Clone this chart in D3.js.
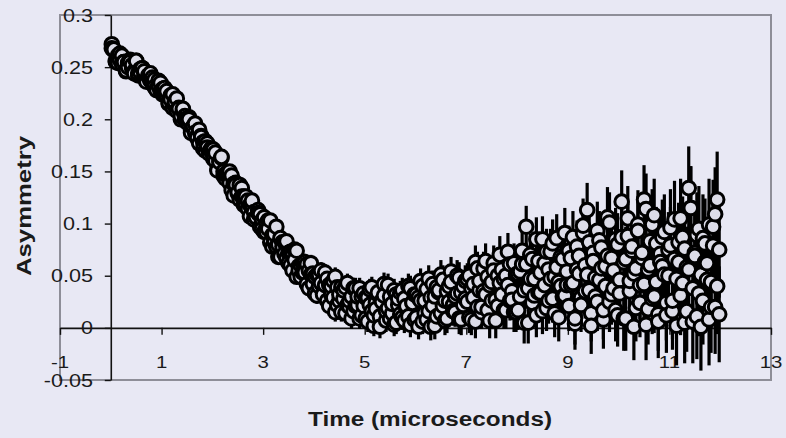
<!DOCTYPE html>
<html>
<head>
<meta charset="utf-8">
<script src="https://cdn.jsdelivr.net/npm/d3@7"></script>
<style>
  html, body { margin: 0; padding: 0; background: #e8e8f4; }
  svg { display: block; }
  text { font-family: "Liberation Sans", Arial, Helvetica, sans-serif; fill: #1a1a1a; }
</style>
</head>
<body>
<svg id="chart" width="786" height="438"></svg>
<script>
// Muon spin asymmetry vs time; one row per microsecond of bins
const times = [
  0.02,0.06,0.10,0.14,0.18, 0.22,0.26,0.30,0.34,0.38, 0.42,0.46,0.50,0.54,0.58, 0.62,0.66,0.70,0.74,0.78, 0.82,0.86,0.90,0.94,0.98,
  1.02,1.06,1.10,1.14,1.18, 1.22,1.26,1.30,1.34,1.38, 1.42,1.46,1.50,1.54,1.58, 1.62,1.66,1.70,1.74,1.78, 1.82,1.86,1.90,1.94,1.98,
  2.02,2.06,2.10,2.14,2.18, 2.22,2.26,2.30,2.34,2.38, 2.42,2.46,2.50,2.54,2.58, 2.62,2.66,2.70,2.74,2.78, 2.82,2.86,2.90,2.94,2.98,
  3.02,3.06,3.10,3.14,3.18, 3.22,3.26,3.30,3.34,3.38, 3.42,3.46,3.50,3.54,3.58, 3.62,3.66,3.70,3.74,3.78, 3.82,3.86,3.90,3.94,3.98,
  4.02,4.06,4.10,4.14,4.18, 4.22,4.26,4.30,4.34,4.38, 4.42,4.46,4.50,4.54,4.58, 4.62,4.66,4.70,4.74,4.78, 4.82,4.86,4.90,4.94,4.98,
  5.02,5.06,5.10,5.14,5.18, 5.22,5.26,5.30,5.34,5.38, 5.42,5.46,5.50,5.54,5.58, 5.62,5.66,5.70,5.74,5.78, 5.82,5.86,5.90,5.94,5.98,
  6.02,6.06,6.10,6.14,6.18, 6.22,6.26,6.30,6.34,6.38, 6.42,6.46,6.50,6.54,6.58, 6.62,6.66,6.70,6.74,6.78, 6.82,6.86,6.90,6.94,6.98,
  7.02,7.06,7.10,7.14,7.18, 7.22,7.26,7.30,7.34,7.38, 7.42,7.46,7.50,7.54,7.58, 7.62,7.66,7.70,7.74,7.78, 7.82,7.86,7.90,7.94,7.98,
  8.02,8.06,8.10,8.14,8.18, 8.22,8.26,8.30,8.34,8.38, 8.42,8.46,8.50,8.54,8.58, 8.62,8.66,8.70,8.74,8.78, 8.82,8.86,8.90,8.94,8.98,
  9.02,9.06,9.10,9.14,9.18, 9.22,9.26,9.30,9.34,9.38, 9.42,9.46,9.50,9.54,9.58, 9.62,9.66,9.70,9.74,9.78, 9.82,9.86,9.90,9.94,9.98,
  10.02,10.06,10.10,10.14,10.18, 10.22,10.26,10.30,10.34,10.38, 10.42,10.46,10.50,10.54,10.58, 10.62,10.66,10.70,10.74,10.78, 10.82,10.86,10.90,10.94,10.98,
  11.02,11.06,11.10,11.14,11.18, 11.22,11.26,11.30,11.34,11.38, 11.42,11.46,11.50,11.54,11.58, 11.62,11.66,11.70,11.74,11.78, 11.82,11.86,11.90,11.94,11.98
];

// first run
const asymmetryRun1 = [
  0.272,0.266,0.256,0.254,0.263, 0.253,0.255,0.246,0.254,0.257, 0.249,0.246,0.256,0.242,0.248, 0.249,0.242,0.237,0.242,0.244, 0.237,0.238,0.229,0.237,0.227,
  0.224,0.230,0.223,0.215,0.223, 0.224,0.213,0.208,0.211,0.200, 0.208,0.203,0.197,0.202,0.190, 0.192,0.196,0.184,0.177,0.184, 0.178,0.170,0.177,0.169,0.169,
  0.171,0.160,0.152,0.160,0.163, 0.150,0.143,0.147,0.150,0.132, 0.138,0.139,0.129,0.123,0.134, 0.126,0.117,0.122,0.107,0.118, 0.111,0.106,0.113,0.097,0.103,
  0.092,0.100,0.103,0.082,0.089, 0.082,0.097,0.080,0.068,0.082, 0.082,0.067,0.072,0.060,0.072, 0.075,0.049,0.059,0.060,0.053, 0.063,0.042,0.055,0.062,0.042,
  0.049,0.031,0.051,0.043,0.033, 0.053,0.026,0.041,0.032,0.045, 0.015,0.039,0.026,0.039,0.028, 0.014,0.043,0.020,0.030,0.016, 0.038,0.022,0.009,0.030,0.033,
  0.009,0.029,0.037,0.016,0.002, 0.024,0.032,0.011,0.026,0.042, 0.007,0.019,0.030,0.014,0.036, 0.005,0.022,0.034,0.010,0.028, 0.018,0.040,0.003,0.024,0.032,
  0.032,0.001,0.026,0.040,0.014, 0.008,0.047,0.029,0.021,0.002, 0.039,0.034,0.014,0.046,0.026, 0.009,0.040,0.054,0.022,0.015, 0.033,0.048,0.008,0.040,0.028,
  0.025,0.050,0.008,0.042,0.063, 0.020,0.036,0.015,0.057,0.032, 0.049,0.007,0.044,0.062,0.027, 0.021,0.043,0.056,0.017,0.050, 0.073,0.026,0.035,0.062,0.015,
  0.052,0.030,0.061,0.005,0.097, 0.038,0.070,0.024,0.047,0.012, 0.064,0.034,0.085,0.041,0.019, 0.056,0.073,0.028,0.049,0.086, 0.010,0.040,0.066,0.031,0.054,
  0.021,0.067,0.043,0.004,0.078, 0.052,0.029,0.091,0.060,0.113, 0.036,0.014,0.072,0.048,0.025, 0.084,0.057,0.008,0.040,0.069, 0.101,0.032,0.055,0.017,0.080,
  0.046,0.121,0.063,0.009,0.088, 0.035,0.074,0.052,0.019,0.099, 0.041,0.067,0.123,0.003,0.056, 0.083,0.028,0.108,0.044,0.013, 0.071,0.059,0.092,0.024,0.050,
  0.079,0.016,0.104,0.047,0.063, 0.031,0.087,0.005,0.058,0.134, 0.115,0.038,0.072,0.011,0.095, 0.051,0.026,0.081,0.062,0.008, 0.044,0.097,0.020,0.123,0.075
];

// second run, same time bins
const asymmetryRun2 = [
  0.268,0.267,0.255,0.261,0.257, 0.261,0.255,0.247,0.250,0.255, 0.252,0.244,0.256,0.244,0.245, 0.249,0.246,0.236,0.241,0.237, 0.240,0.231,0.228,0.232,0.235,
  0.229,0.224,0.227,0.216,0.219, 0.211,0.217,0.220,0.210,0.203, 0.210,0.200,0.200,0.200,0.187, 0.193,0.187,0.182,0.190,0.183, 0.172,0.179,0.173,0.167,0.172,
  0.162,0.168,0.151,0.159,0.164, 0.146,0.147,0.149,0.139,0.146, 0.127,0.137,0.130,0.137,0.126, 0.118,0.126,0.114,0.118,0.122, 0.104,0.106,0.110,0.109,0.095,
  0.106,0.092,0.095,0.103,0.078, 0.090,0.078,0.068,0.086,0.078, 0.071,0.083,0.062,0.073,0.055, 0.065,0.074,0.055,0.049,0.062, 0.053,0.061,0.038,0.051,0.052,
  0.033,0.051,0.040,0.055,0.032, 0.041,0.047,0.021,0.040,0.029, 0.049,0.022,0.032,0.015,0.036, 0.039,0.022,0.026,0.009,0.038, 0.021,0.030,0.038,0.012,0.021,
  0.029,0.006,0.022,0.039,0.012, 0.018,0.034,0.001,0.025,0.031, 0.016,0.041,0.009,0.023,0.003, 0.032,0.028,0.013,0.036,0.007, 0.021,0.011,0.038,0.024,0.008,
  0.010,0.029,0.045,0.006,0.026, 0.037,0.016,0.001,0.042,0.030, 0.011,0.036,0.051,0.021,0.007, 0.035,0.025,0.044,0.016,0.030, 0.050,0.009,0.034,0.022,0.045,
  0.047,0.010,0.038,0.029,0.006, 0.057,0.045,0.020,0.035,0.064, 0.017,0.041,0.026,0.055,0.007, 0.050,0.070,0.032,0.047,0.017, 0.041,0.061,0.027,0.015,0.051,
  0.017,0.054,0.074,0.036,0.061, 0.005,0.047,0.066,0.031,0.085, 0.034,0.053,0.016,0.062,0.073, 0.026,0.047,0.081,0.014,0.058, 0.044,0.068,0.030,0.091,0.041,
  0.074,0.041,0.087,0.009,0.056, 0.069,0.022,0.098,0.035,0.051, 0.082,0.002,0.064,0.030,0.093, 0.046,0.077,0.017,0.059,0.106, 0.025,0.067,0.038,0.085,0.012,
  0.033,0.087,0.009,0.066,0.105, 0.045,0.078,0.001,0.057,0.093, 0.024,0.072,0.042,0.114,0.018, 0.060,0.099,0.030,0.081,0.006, 0.063,0.087,0.051,0.012,0.075,
  0.096,0.026,0.066,0.002,0.082, 0.105,0.043,0.076,0.016,0.056, 0.115,0.006,0.069,0.089,0.033, 0.001,0.086,0.063,0.046,0.099, 0.020,0.079,0.109,0.040,0.013
];

// statistical error per bin (shared by both runs)
const errors = [
  0.004,0.004,0.004,0.004,0.004, 0.004,0.004,0.004,0.004,0.004, 0.004,0.004,0.004,0.004,0.004, 0.004,0.004,0.004,0.004,0.004, 0.004,0.004,0.004,0.004,0.004,
  0.004,0.004,0.004,0.004,0.004, 0.004,0.004,0.004,0.005,0.005, 0.005,0.005,0.005,0.005,0.005, 0.005,0.005,0.005,0.005,0.005, 0.005,0.005,0.005,0.005,0.005,
  0.005,0.005,0.005,0.005,0.005, 0.005,0.005,0.005,0.006,0.006, 0.006,0.006,0.006,0.006,0.006, 0.006,0.006,0.006,0.006,0.006, 0.006,0.006,0.006,0.006,0.006,
  0.006,0.006,0.006,0.006,0.006, 0.006,0.007,0.007,0.007,0.007, 0.007,0.007,0.007,0.007,0.007, 0.007,0.007,0.007,0.008,0.008, 0.008,0.008,0.008,0.008,0.008,
  0.008,0.008,0.008,0.008,0.008, 0.008,0.009,0.009,0.009,0.009, 0.009,0.009,0.009,0.009,0.009, 0.009,0.009,0.009,0.010,0.010, 0.010,0.010,0.010,0.010,0.010,
  0.010,0.010,0.010,0.010,0.010, 0.010,0.011,0.011,0.011,0.011, 0.011,0.011,0.011,0.011,0.011, 0.011,0.011,0.011,0.012,0.012, 0.012,0.012,0.012,0.012,0.012,
  0.012,0.012,0.012,0.012,0.013, 0.013,0.013,0.013,0.013,0.013, 0.013,0.013,0.014,0.014,0.014, 0.014,0.014,0.014,0.014,0.014, 0.015,0.015,0.015,0.015,0.015,
  0.015,0.015,0.015,0.016,0.016, 0.016,0.016,0.016,0.016,0.017, 0.017,0.017,0.017,0.017,0.017, 0.018,0.018,0.018,0.018,0.018, 0.018,0.019,0.019,0.019,0.019,
  0.019,0.019,0.020,0.020,0.020, 0.020,0.020,0.021,0.021,0.021, 0.021,0.021,0.022,0.022,0.022, 0.022,0.022,0.023,0.023,0.023, 0.023,0.023,0.024,0.024,0.024,
  0.024,0.024,0.025,0.025,0.025, 0.025,0.026,0.026,0.026,0.026, 0.027,0.027,0.027,0.027,0.028, 0.028,0.028,0.028,0.029,0.029, 0.029,0.029,0.030,0.030,0.030,
  0.030,0.030,0.031,0.031,0.031, 0.032,0.032,0.032,0.032,0.033, 0.033,0.033,0.033,0.034,0.034, 0.034,0.034,0.035,0.035,0.035, 0.035,0.036,0.036,0.036,0.036,
  0.037,0.037,0.037,0.038,0.038, 0.038,0.039,0.039,0.039,0.040, 0.040,0.040,0.041,0.041,0.041, 0.042,0.042,0.043,0.043,0.044, 0.044,0.045,0.045,0.046,0.046
];

const xTicks = [-1, 1, 3, 5, 7, 9, 11, 13];
const xTickLabels = ["-1", "1", "3", "5", "7", "9", "11", "13"];
const yTicks = [-0.05, 0, 0.05, 0.1, 0.15, 0.2, 0.25, 0.3];
const yTickLabels = ["-0.05", "0", "0.05", "0.1", "0.15", "0.2", "0.25", "0.3"];

const svg = d3.select("#chart");

const x = d3.scaleLinear().domain([-1, 13]).range([60, 771]);
const y = d3.scaleLinear().domain([-0.05, 0.3]).range([380, 15]);

const points = [];
d3.range(times.length).forEach(i => {
  points.push({ t: times[i], v: asymmetryRun1[i], e: errors[i] });
  points.push({ t: times[i], v: asymmetryRun2[i], e: errors[i] });
});

// plot-area border
svg.append("rect")
  .attr("x", x(-1)).attr("y", y(0.3))
  .attr("width", x(13) - x(-1)).attr("height", y(-0.05) - y(0.3))
  .attr("fill", "none").attr("stroke", "#8e8e98").attr("stroke-width", 2);

// axes crossing at the origin
const yAxis = svg.append("g")
  .attr("transform", `translate(${x(0)},0)`)
  .call(d3.axisLeft(y).tickValues(yTicks).tickSize(6).tickSizeOuter(0).tickFormat(""));
const xAxis = svg.append("g")
  .attr("transform", `translate(0,${y(0)})`)
  .call(d3.axisBottom(x).tickValues(xTicks).tickSize(7).tickSizeOuter(0).tickFormat(""));
[yAxis, xAxis].forEach(g => {
  g.selectAll("path.domain").attr("stroke", "#111").attr("stroke-width", 1.6);
  g.selectAll(".tick line").attr("stroke", "#111").attr("stroke-width", 1.4);
});

// tick labels
svg.append("g").selectAll("text")
  .data(yTicks)
  .join("text")
  .attr("transform", d => `translate(93,${y(d) + 6.5}) scale(1.2,1)`)
  .attr("text-anchor", "end")
  .attr("font-size", 18)
  .text((d, i) => yTickLabels[i]);

svg.append("g").selectAll("text")
  .data(xTicks)
  .join("text")
  .attr("transform", d => `translate(${x(d)},368) scale(1.2,1)`)
  .attr("text-anchor", "middle")
  .attr("font-size", 17)
  .text((d, i) => xTickLabels[i]);

// axis titles
svg.append("text")
  .attr("x", 430).attr("y", 426)
  .attr("text-anchor", "middle")
  .attr("font-size", 20).attr("font-weight", "bold")
  .attr("textLength", 244).attr("lengthAdjust", "spacingAndGlyphs")
  .text("Time (microseconds)");

svg.append("text")
  .attr("transform", "translate(31,206) rotate(-90)")
  .attr("text-anchor", "middle")
  .attr("font-size", 20).attr("font-weight", "bold")
  .attr("textLength", 140).attr("lengthAdjust", "spacingAndGlyphs")
  .text("Asymmetry");

// error bars beneath the markers
svg.append("g").selectAll("line")
  .data(points)
  .join("line")
  .attr("x1", d => x(d.t)).attr("x2", d => x(d.t))
  .attr("y1", d => y(d.v + d.e)).attr("y2", d => y(d.v - d.e))
  .attr("stroke", "#000").attr("stroke-width", 3.2);

// open circle markers
svg.append("g").selectAll("circle")
  .data(points)
  .join("circle")
  .attr("cx", d => x(d.t)).attr("cy", d => y(d.v))
  .attr("r", 6.8)
  .attr("fill", "#dcdce8")
  .attr("stroke", "#000").attr("stroke-width", 3);
</script>
</body>
</html>
